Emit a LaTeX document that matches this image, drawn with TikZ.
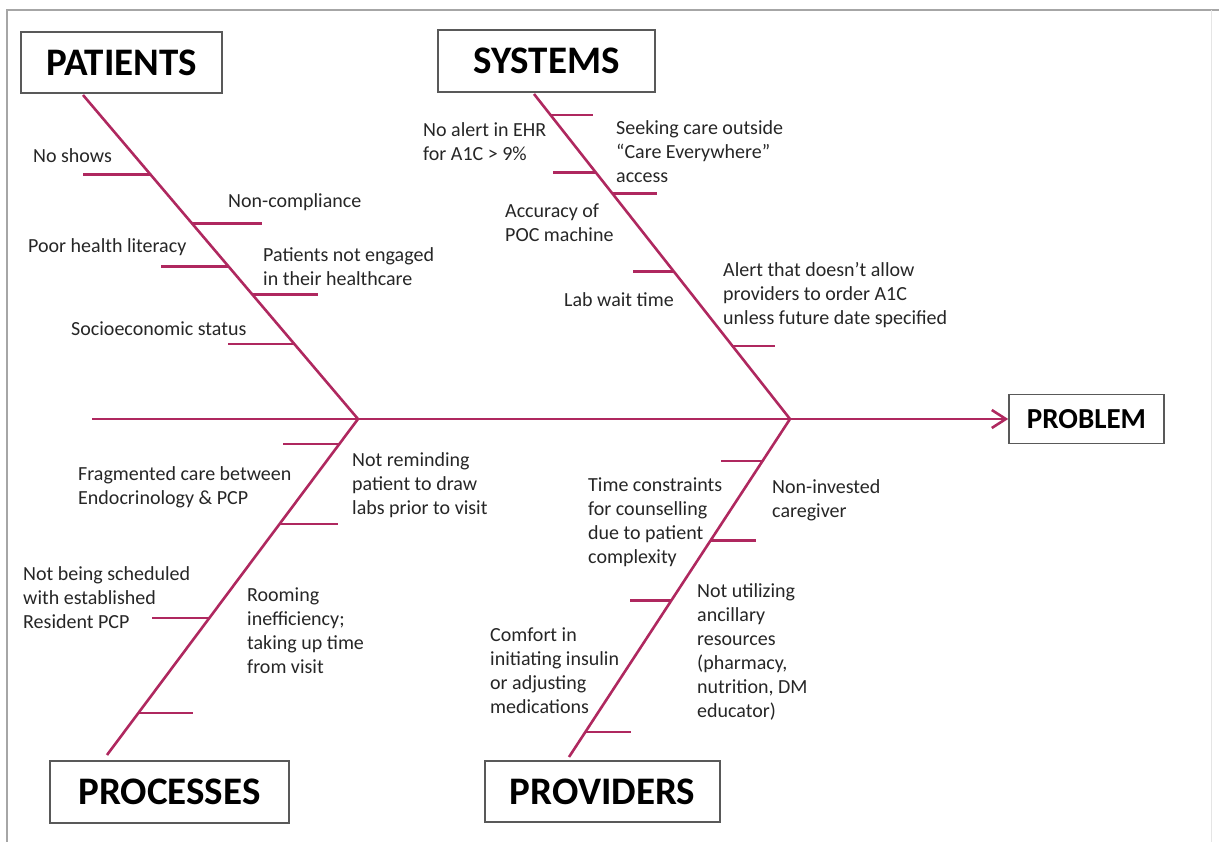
\documentclass[tikz,border=0pt]{standalone}
\usepackage{fontspec}
\setmainfont{Carlito}
\usetikzlibrary{arrows.meta,calc}

\definecolor{bone}{RGB}{175,40,95}

\tikzset{
	fishpicture/.style = {
		x = 1pt,
		y = -1pt,
		spine/.style = {
			draw = bone,
			line width = 2.6pt,
		},
		rib/.style = {
			draw = bone,
			line width = 2.4pt,
		}
	},
	catbox/.style = {
		draw = black!65,
		line width = 1.6pt,
		fill = white,
		inner sep = 0pt,
		font = \fontsize{39}{44}\selectfont\bfseries
	},
	cause/.style = {
		anchor = west,
		align = left,
		inner sep = 0pt,
		text = black!85,
		font = \fontsize{20}{24}\selectfont
	}
}

\begin{document}
\begin{tikzpicture}[fishpicture]
	\useasboundingbox (0,0) rectangle (1219,842);
	\draw[black!35, line width = 1.2pt] (7,842) -- (7,10) -- (1219,10);
	\draw[black!10] (1211,10) -- (1211,842);

	% category boxes
	\node[catbox, minimum width = 201pt, minimum height = 61pt] (patients) at (121.5,62.5) {PATIENTS};
	\node[catbox, minimum width = 217pt, minimum height = 62pt] (systems) at (546.5,61) {SYSTEMS};
	\node[catbox, minimum width = 239pt, minimum height = 62pt] (processes) at (169.5,792) {PROCESSES};
	\node[catbox, minimum width = 235pt, minimum height = 61pt] (providers) at (602.5,791.5) {PROVIDERS};
	\node[catbox, minimum width = 155pt, minimum height = 49pt, font = \fontsize{29}{34}\selectfont\bfseries] (problem) at (1086.5,419) {PROBLEM};

	\coordinate (tail) at (92,419);
	\coordinate (j1) at (358,419);
	\coordinate (j2) at (790,419);
	\coordinate (pa) at (83,95);
	\coordinate (sy) at (534,94);
	\coordinate (pr) at (107,755);
	\coordinate (pv) at (569,757);

	% bones
	\begin{scope}[every path/.style = spine]
		\path[-{Straight Barb[length=14pt,width=18pt]}] (tail) -- (problem.west);
		\path (pa) -- (j1);
		\path (sy) -- (j2);
		\path (j1) -- (pr);
		\path (j2) -- (pv);
	\end{scope}

	\foreach \t/\len in {0.245/-67, 0.396/70, 0.529/-67, 0.616/66, 0.768/-66}
		\draw[rib] ($(pa)!\t!(j1)$) -- ++(\len,0);
	\foreach \t/\len in {0.065/42, 0.241/-43, 0.306/45, 0.546/-41, 0.775/43}
		\draw[rib] ($(sy)!\t!(j2)$) -- ++(\len,0);
	\foreach \t/\len in {0.074/-56, 0.312/58, 0.593/-57, 0.875/55}
		\draw[rib] ($(j1)!\t!(pr)$) -- ++(\len,0);
	\foreach \t/\len in {0.124/-42, 0.360/46, 0.537/-41, 0.926/46}
		\draw[rib] ($(j2)!\t!(pv)$) -- ++(\len,0);

	% patients
	\node[cause] (noshows) at (33,156) {No shows};
	\node[cause] (noncomp) at (228,202) {Non-compliance};
	\node[cause] (literacy) at (28,247) {Poor health literacy};
	\node[cause] (engaged) at (263,267) {Patients not engaged\\in their healthcare};
	\node[cause] (socio) at (71,329) {Socioeconomic status};

	% systems
	\node[cause] (noalert) at (423,141.5) {No alert in EHR\\for A1C > 9\%};
	\node[cause] (outside) at (616,152) {Seeking care outside\\“Care Everywhere”\\access};
	\node[cause] (poc) at (505,223) {Accuracy of\\POC machine};
	\node[cause] (labwait) at (564,300) {Lab wait time};
	\node[cause] (order) at (723,295) {Alert that doesn’t allow\\providers to order A1C\\unless future date specified};

	% processes
	\node[cause] (fragment) at (78,487) {Fragmented care between\\Endocrinology \& PCP};
	\node[cause] (remind) at (352,485) {Not reminding\\patient to draw\\labs prior to visit};
	\node[cause] (schedule) at (23,598) {Not being scheduled\\with established\\Resident PCP};
	\node[cause] (rooming) at (247,631) {Rooming\\inefficiency;\\taking up time\\from visit};

	% providers
	\node[cause] (timecon) at (588,522) {Time constraints\\for counselling\\due to patient\\complexity};
	\node[cause] (caregiver) at (772,500) {Non-invested\\caregiver};
	\node[cause] (ancillary) at (697,652) {Not utilizing\\ancillary\\resources\\(pharmacy,\\nutrition, DM\\educator)};
	\node[cause] (comfort) at (490,671) {Comfort in\\initiating insulin\\or adjusting\\medications};
\end{tikzpicture}
\end{document}
